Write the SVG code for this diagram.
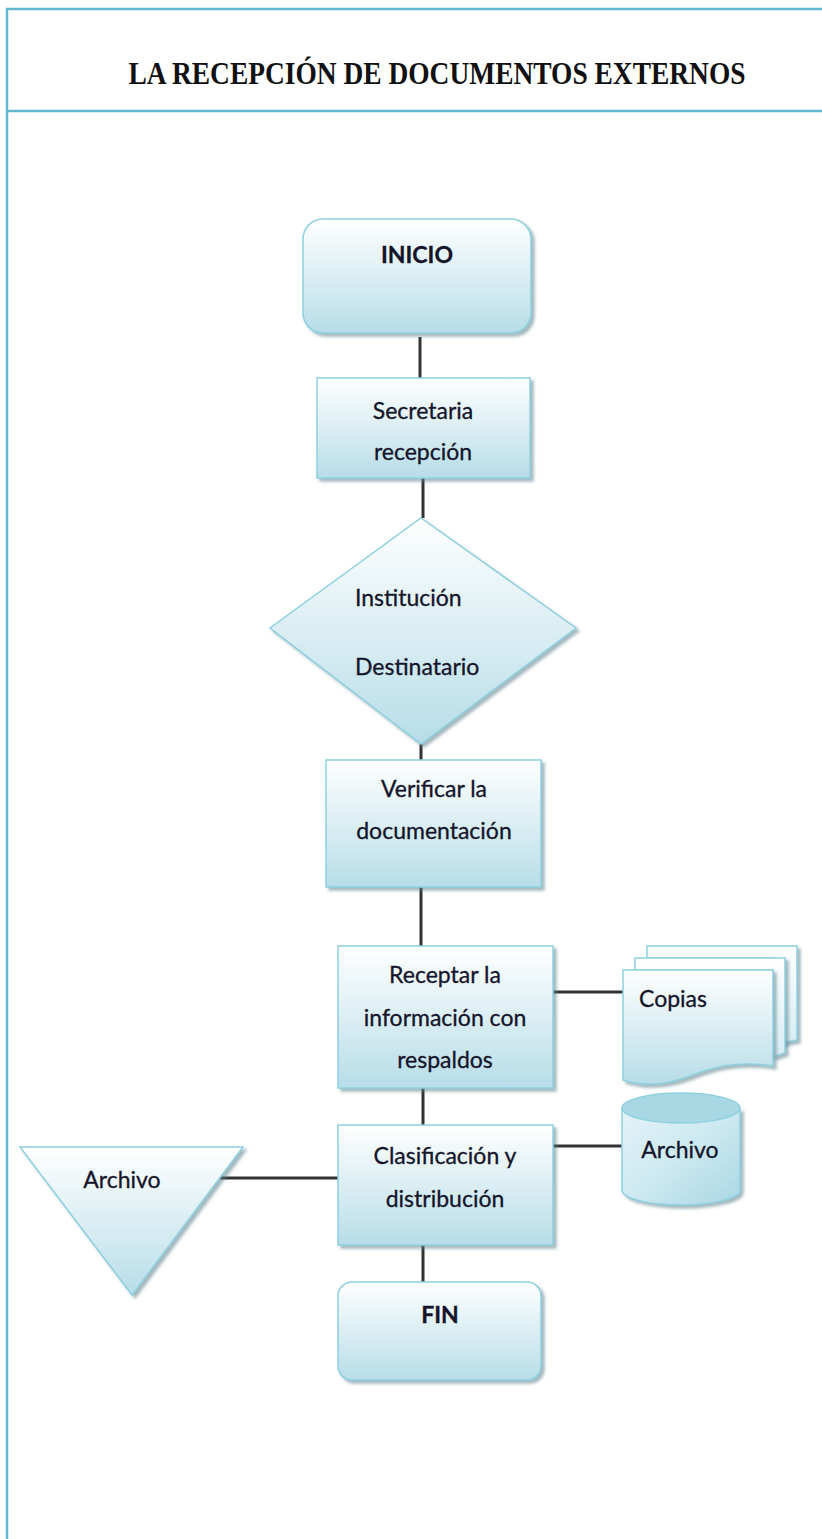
<svg xmlns="http://www.w3.org/2000/svg" width="822" height="1539" viewBox="0 0 822 1539">
  <style>
    .frame { fill: none; stroke: #63b8cf; stroke-width: 2.5; }
    .shape { fill: url(#fillGrad); stroke: #8fd0e0; stroke-width: 1.5; filter: url(#shadow); }
    .back { fill: url(#fillGrad2); stroke: #8fd0e0; stroke-width: 1.5; filter: url(#shadow); }
    .wire { fill: none; stroke: #333; stroke-width: 3; }
    .lbl { font-family: Lato, "Liberation Sans", sans-serif; font-size: 23px; fill: #14142a; text-anchor: middle; stroke: #14142a; stroke-width: 0.3; }
    .bold { font-weight: bold; }
    .title { font-family: "Liberation Serif", serif; font-weight: bold; font-size: 28px; fill: #111; text-anchor: middle; }
  </style>
  <defs>
    <linearGradient id="fillGrad" x1="0" y1="0" x2="0" y2="1">
      <stop offset="0" stop-color="#ffffff"/>
      <stop offset="1" stop-color="#b7dde8"/>
    </linearGradient>
    <linearGradient id="fillGrad2" x1="0" y1="0" x2="0" y2="1">
      <stop offset="0" stop-color="#ffffff"/>
      <stop offset="1" stop-color="#d6edf4"/>
    </linearGradient>
    <linearGradient id="cylGrad" x1="0" y1="0" x2="1" y2="1">
      <stop offset="0" stop-color="#e4f3f8"/>
      <stop offset="0.5" stop-color="#cde9f1"/>
      <stop offset="1" stop-color="#a9d6e3"/>
    </linearGradient>
    <filter id="shadow" x="-10%" y="-10%" width="125%" height="125%">
      <feDropShadow dx="3" dy="3" stdDeviation="1.5" flood-color="#5a7f8a" flood-opacity="0.55"/>
    </filter>
  </defs>

  <rect width="822" height="1539" fill="#ffffff"/>

  <!-- page frame with title band -->
  <g id="frame">
    <path class="frame" d="M822 9 H7 V1539"/>
    <path class="frame" d="M7 111 H822"/>
    <text class="title" transform="translate(437 84) scale(1 1.15)" x="0" y="0" textLength="617" lengthAdjust="spacingAndGlyphs">LA RECEPCIÓN DE DOCUMENTOS EXTERNOS</text>
  </g>

  <!-- connectors -->
  <g id="connectors">
    <line class="wire" x1="420" y1="337" x2="420" y2="378"/>
    <line class="wire" x1="423" y1="478" x2="423" y2="518"/>
    <line class="wire" x1="421" y1="744" x2="421" y2="760"/>
    <line class="wire" x1="421" y1="887" x2="421" y2="946"/>
    <line class="wire" x1="553" y1="992" x2="623" y2="992"/>
    <line class="wire" x1="423" y1="1088" x2="423" y2="1125"/>
    <line class="wire" x1="553" y1="1146" x2="622" y2="1146"/>
    <line class="wire" x1="220" y1="1178" x2="338" y2="1178"/>
    <line class="wire" x1="423" y1="1245" x2="423" y2="1282"/>
  </g>

  <g id="inicio">
    <rect class="shape" x="303" y="219" width="228" height="114" rx="20"/>
    <text class="lbl bold" x="417" y="263">INICIO</text>
  </g>

  <g id="secretaria">
    <rect class="shape" x="317" y="378" width="213" height="100"/>
    <text class="lbl" x="423" y="419">Secretaria</text>
    <text class="lbl" x="423" y="460">recepción</text>
  </g>

  <g id="institucion">
    <polygon class="shape" points="421,518 576,628 421,744 270,628"/>
    <text class="lbl" x="355" y="606" style="text-anchor:start">Institución</text>
    <text class="lbl" x="355" y="675" style="text-anchor:start">Destinatario</text>
  </g>

  <g id="verificar">
    <rect class="shape" x="326" y="760" width="215" height="127"/>
    <text class="lbl" x="434" y="797">Verificar la</text>
    <text class="lbl" x="434" y="839">documentación</text>
  </g>

  <g id="receptar">
    <rect class="shape" x="338" y="946" width="215" height="142"/>
    <text class="lbl" x="445" y="983">Receptar la</text>
    <text class="lbl" x="445" y="1026">información con</text>
    <text class="lbl" x="445" y="1068">respaldos</text>
  </g>

  <g id="copias">
    <path class="back" d="M647 946 H797 V1040 Q785 1042 773 1045 V958 H647 Z"/>
    <path class="back" d="M635 958 H785 V1053 Q779 1055 773 1057 V970 H635 Z"/>
    <path class="shape" d="M623 970 H773 V1066 C735 1060 710 1068 690 1076 C665 1086 640 1086 623 1080 Z"/>
    <text class="lbl" x="673" y="1007">Copias</text>
  </g>

  <g id="clasificacion">
    <rect class="shape" x="338" y="1125" width="215" height="120"/>
    <text class="lbl" x="445" y="1164">Clasificación y</text>
    <text class="lbl" x="445" y="1207">distribución</text>
  </g>

  <g id="archivo-bd">
    <path d="M622 1108 V1190 A59 15 0 0 0 740 1190 V1108" fill="url(#cylGrad)" stroke="#8fd0e0" stroke-width="1.5" filter="url(#shadow)"/>
    <ellipse cx="681" cy="1108" rx="59" ry="15" fill="#a9d8e5" stroke="#8fd0e0" stroke-width="1.5"/>
    <text class="lbl" x="680" y="1158">Archivo</text>
  </g>

  <g id="archivo-tri">
    <polygon class="shape" points="20,1147 243,1147 132,1295"/>
    <text class="lbl" x="122" y="1188">Archivo</text>
  </g>

  <g id="fin">
    <rect class="shape" x="338" y="1282" width="203" height="98" rx="14"/>
    <text class="lbl bold" x="440" y="1323">FIN</text>
  </g>
</svg>
